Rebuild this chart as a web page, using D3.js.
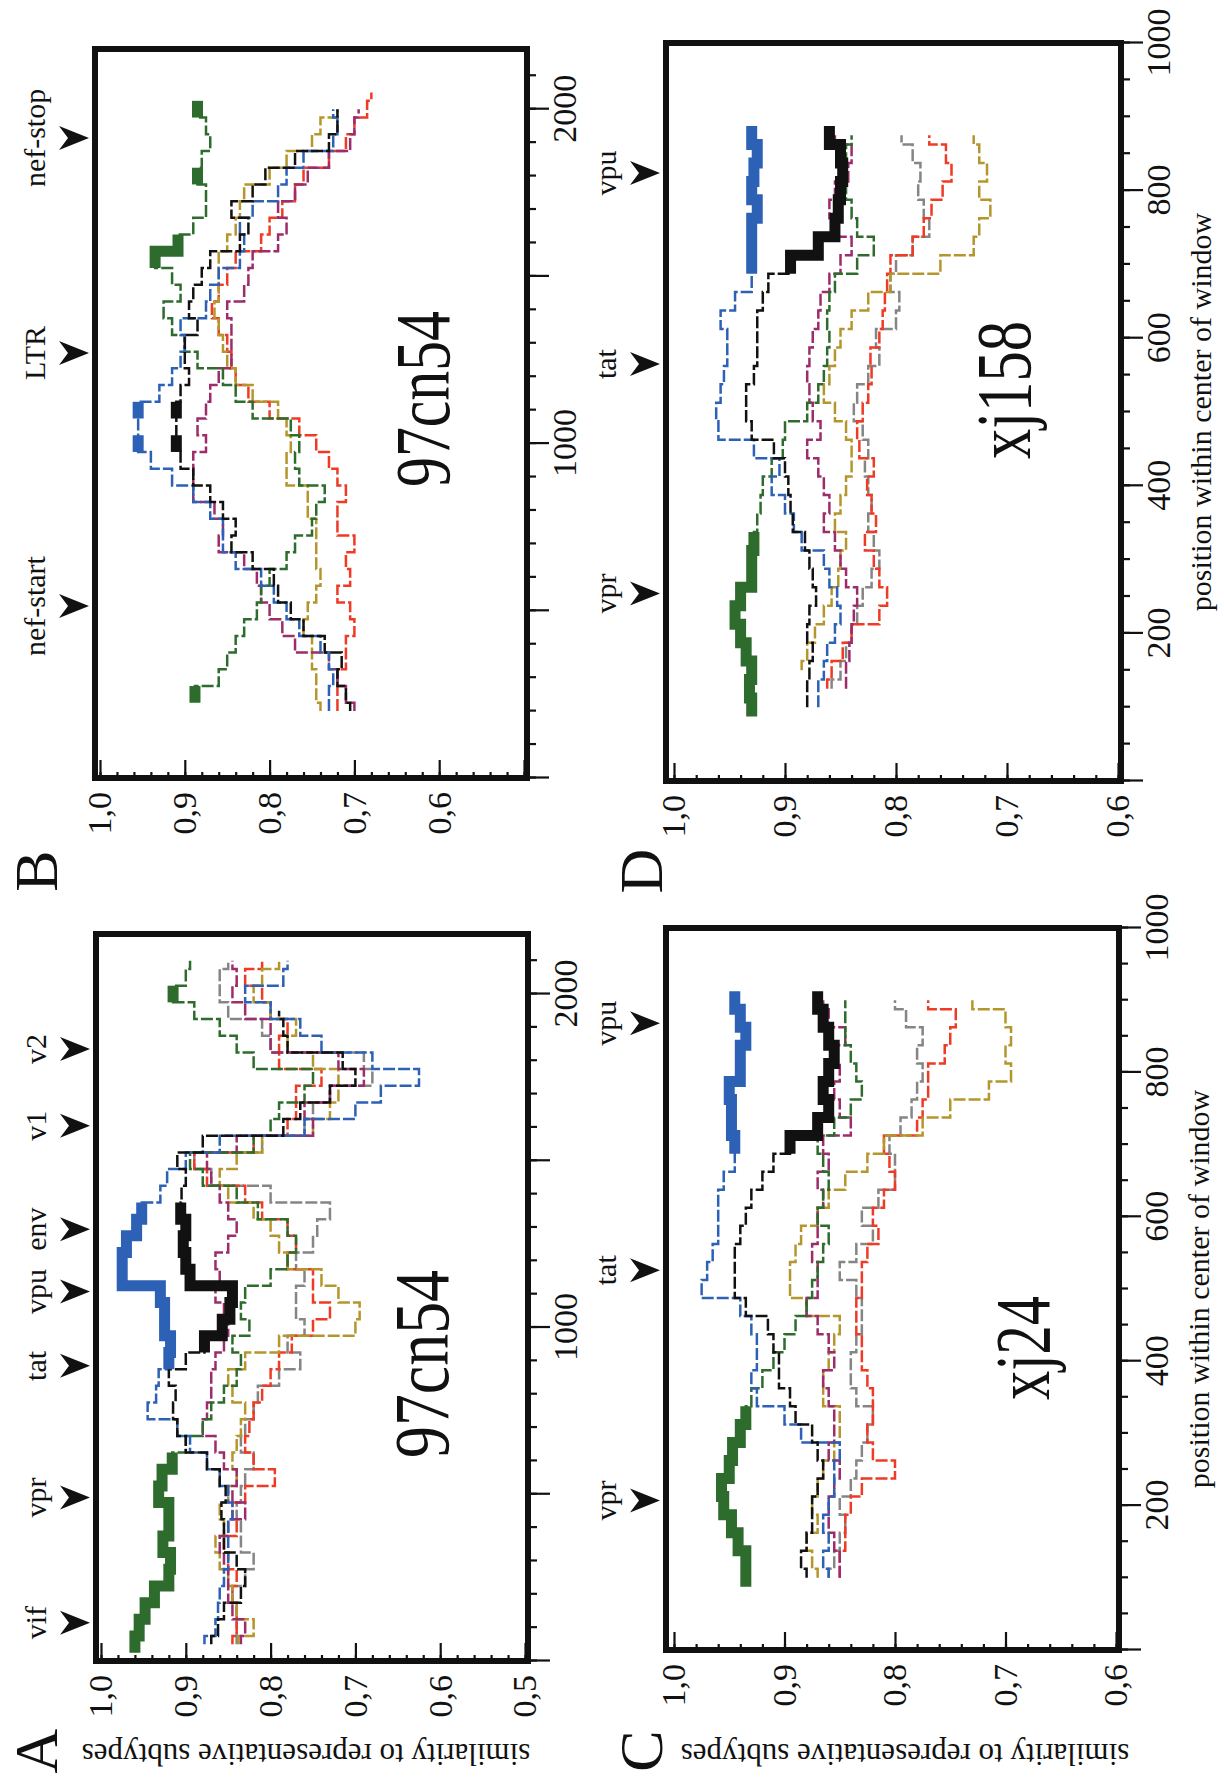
<!DOCTYPE html>
<html>
<head>
<meta charset="utf-8">
<script src="https://cdn.jsdelivr.net/npm/d3@7"></script>
<style>
  html, body { margin: 0; padding: 0; background: #fff; }
  svg { display: block; }
</style>
</head>
<body>
<div id="container"></div>
<script>
// window centres the curves were read at
const posAB = [50, 100, 150, 200, 250, 300, 350, 400, 450, 500, 550, 600, 650, 700, 750, 800, 850, 900, 950, 1000, 1050,
  1100, 1150, 1200, 1250, 1300, 1350, 1400, 1450, 1500, 1550, 1600, 1650, 1700, 1750, 1800, 1850, 1900, 1950, 2000, 2050, 2100];
const posCD = [100, 125, 150, 175, 200, 225, 250, 275, 300, 325, 350, 375, 400, 425, 450, 475, 500, 525, 550, 575, 600,
  625, 650, 675, 700, 725, 750, 775, 800, 825, 850, 875, 900];

// A: 97cn54, gag-env
const aGreen = [0.96, 0.955, 0.948, 0.937, 0.92, 0.918, 0.927, 0.92, 0.92, 0.932, 0.928, 0.916, 0.9, 0.88, 0.87, 0.855, 0.84, 0.835, 0.845, 0.825, 0.835,
  0.83, 0.8, 0.78, 0.77, 0.78, 0.815, 0.84, 0.88, 0.895, 0.82, 0.8, 0.79, 0.76, 0.75, 0.82, 0.84, 0.86, 0.89, 0.915, 0.9, 0.895];
const aBlue = [0.878, 0.865, 0.862, 0.86, 0.855, 0.85, 0.85, 0.85, 0.845, 0.85, 0.86, 0.875, 0.895, 0.91, 0.945, 0.935, 0.932, 0.92, 0.918, 0.925, 0.925,
  0.93, 0.975, 0.975, 0.97, 0.958, 0.952, 0.93, 0.922, 0.9, 0.86, 0.76, 0.7, 0.67, 0.625, 0.68, 0.74, 0.765, 0.8, 0.83, 0.785, 0.78];
const aBlack = [0.87, 0.862, 0.855, 0.835, 0.83, 0.84, 0.855, 0.855, 0.858, 0.853, 0.86, 0.875, 0.9, 0.91, 0.915, 0.912, 0.92, 0.9, 0.878, 0.857, 0.848,
  0.845, 0.895, 0.9, 0.903, 0.9, 0.906, 0.905, 0.9, 0.91, 0.88, 0.785, 0.765, 0.73, 0.7, 0.715, 0.78, 0.785, 0.79, null, null, null];
const aPurple = [0.835, 0.83, 0.845, 0.85, 0.85, 0.855, 0.86, 0.85, 0.83, 0.845, 0.84, 0.855, 0.865, 0.88, 0.875, 0.87, 0.87, 0.865, 0.855, 0.85, 0.855,
  0.865, 0.86, 0.865, 0.85, 0.84, 0.85, 0.86, 0.87, 0.875, 0.84, 0.75, 0.76, 0.73, 0.69, 0.72, 0.8, 0.8, 0.83, 0.845, 0.84, 0.845];
const aOlive = [0.838, 0.82, 0.84, 0.845, 0.85, 0.86, 0.865, 0.855, 0.86, 0.85, 0.84, 0.845, 0.84, 0.835, 0.83, 0.845, 0.85, 0.83, 0.79, 0.7, 0.695,
  0.72, 0.74, 0.78, 0.79, 0.8, 0.82, 0.85, 0.86, 0.84, 0.81, 0.75, 0.73, 0.72, 0.72, 0.75, 0.78, 0.77, 0.8, 0.82, 0.81, 0.79];
const aRed = [0.845, 0.84, 0.84, 0.845, 0.84, 0.85, 0.855, 0.84, 0.845, 0.83, 0.795, 0.82, 0.83, 0.825, 0.82, 0.81, 0.8, 0.79, 0.775, 0.75, 0.73,
  0.75, 0.75, 0.78, 0.77, 0.78, 0.81, 0.83, 0.875, 0.89, 0.82, 0.78, 0.77, 0.77, 0.74, 0.79, 0.79, 0.78, 0.8, 0.81, 0.83, 0.81];
const aGray = [0.84, 0.84, 0.84, 0.845, 0.83, 0.82, 0.835, 0.835, 0.84, 0.835, 0.83, 0.82, 0.835, 0.83, 0.82, 0.815, 0.79, 0.765, 0.78, 0.76, 0.77,
  0.77, 0.76, 0.77, 0.75, 0.745, 0.73, 0.8, 0.87, 0.89, 0.81, 0.76, 0.75, 0.73, 0.68, 0.69, 0.8, 0.81, 0.85, 0.86, 0.86, 0.85];

// B: 97cn54, nef / LTR
const bGreen = [null, null, null, null, 0.888, 0.86, 0.85, 0.84, 0.83, 0.815, 0.81, 0.8, 0.78, 0.77, 0.75, 0.745, 0.735, 0.765, 0.77, 0.765, 0.775,
  0.82, 0.84, 0.855, 0.885, 0.9, 0.915, 0.925, 0.905, 0.915, 0.935, 0.908, 0.89, 0.875, 0.875, 0.885, 0.88, 0.87, 0.875, 0.885, null, null];
const bBlue = [null, null, null, 0.73, 0.73, 0.725, 0.73, 0.74, 0.765, 0.78, 0.795, 0.81, 0.84, 0.855, 0.855, 0.87, 0.89, 0.915, 0.94, 0.955, 0.955,
  0.955, 0.93, 0.915, 0.905, 0.9, 0.905, 0.875, 0.87, 0.86, 0.835, 0.83, 0.835, 0.82, 0.79, 0.78, 0.76, 0.725, 0.72, 0.725, null, null];
const bBlack = [null, null, null, 0.705, 0.71, 0.72, 0.715, 0.735, 0.76, 0.775, 0.79, 0.795, 0.82, 0.845, 0.84, 0.855, 0.87, 0.89, 0.905, 0.91, 0.91,
  0.91, 0.905, 0.895, 0.9, 0.9, 0.885, 0.895, 0.89, 0.88, 0.87, 0.835, 0.825, 0.845, 0.82, 0.805, 0.77, 0.73, 0.72, 0.72, null, null];
const bPurple = [null, null, null, 0.7, 0.71, 0.72, 0.73, 0.77, 0.785, 0.8, 0.81, 0.815, 0.83, 0.86, 0.855, 0.865, 0.89, 0.89, 0.89, 0.875, 0.885,
  0.875, 0.87, 0.86, 0.845, 0.845, 0.845, 0.85, 0.83, 0.825, 0.82, 0.79, 0.78, 0.79, 0.77, 0.755, 0.73, 0.705, 0.7, 0.695, null, null];
const bOlive = [null, null, null, 0.74, 0.745, 0.745, 0.75, 0.75, 0.76, 0.755, 0.745, 0.74, 0.745, 0.745, 0.745, 0.755, 0.755, 0.78, 0.78, 0.775, 0.78,
  0.79, 0.82, 0.84, 0.85, 0.855, 0.86, 0.865, 0.86, 0.86, 0.86, 0.85, 0.84, 0.835, 0.83, 0.8, 0.78, 0.75, 0.74, 0.72, null, null];
const bRed = [null, null, null, 0.72, 0.72, 0.72, 0.71, 0.71, 0.7, 0.705, 0.72, 0.705, 0.71, 0.7, 0.72, 0.72, 0.71, 0.72, 0.73, 0.745, 0.765,
  0.8, 0.825, 0.84, 0.845, 0.85, 0.86, 0.868, 0.86, 0.85, 0.84, 0.81, 0.8, 0.785, 0.77, 0.76, 0.73, 0.71, 0.7, 0.685, 0.68, null];

// C: xj24
const cGreen = [0.935, 0.935, 0.942, 0.948, 0.955, 0.957, 0.95, 0.947, 0.94, 0.935, 0.93, 0.92, 0.91, 0.9, 0.89, 0.88, 0.875,
  0.87, 0.865, 0.86, 0.87, 0.865, 0.86, 0.865, 0.87, 0.855, 0.84, 0.83, 0.835, 0.84, 0.845, 0.845, 0.845];
const cBlue = [0.86, 0.865, 0.86, 0.865, 0.86, 0.855, 0.855, 0.85, 0.885, 0.9, 0.925, 0.93, 0.925, 0.925, 0.93, 0.94, 0.975,
  0.97, 0.965, 0.96, 0.96, 0.96, 0.955, 0.945, 0.945, 0.948, 0.948, 0.95, 0.94, 0.94, 0.935, 0.94, 0.945];
const cBlack = [0.88, 0.885, 0.88, 0.875, 0.875, 0.87, 0.865, 0.87, 0.875, 0.89, 0.895, 0.905, 0.905, 0.91, 0.915, 0.935, 0.945,
  0.945, 0.945, 0.94, 0.935, 0.93, 0.92, 0.91, 0.895, 0.87, 0.86, 0.865, 0.86, 0.855, 0.86, 0.865, 0.87];
const cPurple = [0.85, 0.85, 0.855, 0.86, 0.86, 0.855, 0.85, 0.86, 0.855, 0.855, 0.86, 0.865, 0.855, 0.86, 0.87, 0.88, 0.87,
  0.87, 0.875, 0.87, 0.87, 0.865, 0.87, 0.86, 0.865, 0.84, 0.85, 0.855, 0.85, 0.855, 0.845, 0.86, 0.865];
const cOlive = [0.87, 0.875, 0.88, 0.87, 0.875, 0.87, 0.865, 0.855, 0.85, 0.85, 0.865, 0.865, 0.86, 0.855, 0.85, 0.88, 0.895,
  0.895, 0.89, 0.885, 0.87, 0.86, 0.845, 0.825, 0.81, 0.775, 0.75, 0.715, 0.695, 0.7, 0.695, 0.7, 0.73];
const cRed = [0.85, 0.85, 0.845, 0.845, 0.84, 0.83, 0.8, 0.82, 0.825, 0.82, 0.82, 0.825, 0.83, 0.83, 0.835, 0.835, 0.83,
  0.83, 0.825, 0.815, 0.82, 0.81, 0.8, 0.805, 0.81, 0.78, 0.775, 0.77, 0.77, 0.755, 0.75, 0.745, 0.77];
const cGray = [0.86, 0.855, 0.85, 0.845, 0.85, 0.84, 0.835, 0.83, 0.825, 0.82, 0.835, 0.84, 0.84, 0.835, 0.83, 0.83, 0.835,
  0.85, 0.835, 0.82, 0.83, 0.815, 0.8, 0.8, 0.805, 0.795, 0.785, 0.78, 0.775, 0.78, 0.775, 0.79, 0.8];

// D: xj158
const dGreen = [0.93, 0.932, 0.93, 0.935, 0.94, 0.945, 0.94, 0.93, 0.93, 0.928, 0.925, 0.922, 0.92, 0.912, 0.902, 0.9, 0.88,
  0.87, 0.865, 0.862, 0.86, 0.862, 0.86, 0.855, 0.835, 0.82, 0.835, 0.84, 0.845, 0.845, 0.845, 0.84, null];
const dBlue = [0.87, 0.87, 0.865, 0.862, 0.855, 0.85, 0.853, 0.86, 0.865, 0.885, 0.892, 0.9, 0.912, 0.905, 0.928, 0.96, 0.962,
  0.958, 0.955, 0.952, 0.952, 0.958, 0.945, 0.93, 0.93, 0.93, 0.93, 0.925, 0.93, 0.928, 0.925, 0.93, null];
const dBlack = [0.88, 0.88, 0.878, 0.875, 0.88, 0.878, 0.872, 0.875, 0.878, 0.882, 0.893, 0.895, 0.897, 0.9, 0.91, 0.93, 0.935,
  0.935, 0.928, 0.925, 0.925, 0.925, 0.92, 0.915, 0.895, 0.87, 0.855, 0.852, 0.85, 0.848, 0.85, 0.86, null];
const dPurple = [null, 0.845, 0.845, 0.842, 0.84, 0.838, 0.835, 0.845, 0.85, 0.855, 0.865, 0.86, 0.865, 0.87, 0.88, 0.868, 0.875,
  0.878, 0.88, 0.878, 0.875, 0.87, 0.868, 0.86, 0.85, 0.84, 0.855, 0.86, 0.855, 0.843, 0.84, 0.855, null];
const dOlive = [null, null, 0.885, 0.88, 0.873, 0.865, 0.858, 0.852, 0.85, 0.845, 0.855, 0.85, 0.845, 0.84, 0.84, 0.845, 0.855,
  0.865, 0.86, 0.855, 0.85, 0.84, 0.825, 0.805, 0.76, 0.73, 0.725, 0.715, 0.725, 0.718, 0.725, 0.73, null];
const dRed = [null, 0.862, 0.858, 0.848, 0.84, 0.815, 0.808, 0.815, 0.82, 0.828, 0.818, 0.822, 0.826, 0.82, 0.833, 0.835, 0.83,
  0.825, 0.822, 0.823, 0.815, 0.812, 0.81, 0.808, 0.805, 0.785, 0.775, 0.768, 0.758, 0.75, 0.755, 0.77, null];
const dGray = [null, 0.858, 0.85, 0.845, 0.84, 0.835, 0.83, 0.822, 0.815, 0.82, 0.825, 0.822, 0.825, 0.828, 0.825, 0.83, 0.838,
  0.835, 0.825, 0.815, 0.818, 0.8, 0.797, 0.805, 0.8, 0.785, 0.77, 0.775, 0.78, 0.778, 0.785, 0.795, null];

// gene landmarks above each panel
const genesA = ["vif", "vpr", "tat", "vpu", "env", "v1", "v2"];
const genePosA = [115, 490, 885, 1108, 1295, 1605, 1835];
const genesB = ["nef-start", "LTR", "nef-stop"];
const genePosB = [514, 1271, 1914];
const genesCD = ["vpr", "tat", "vpu"];
const genePosC = [207, 526, 868];
const genePosD = [254, 565, 824];

const xLabelsAB = [1000, 2000];
const xLabelsCD = [200, 400, 600, 800, 1000];

const colors = {
  gray: "#858585", red: "#ef3a25", olive: "#b5962d", purple: "#9c2d6a",
  green: "#2d6c2d", blue: "#2c61b5", black: "#111111"
};
const drawOrder = ["gray", "red", "olive", "purple", "green", "blue", "black"];
const serif = '"Liberation Serif", "Times New Roman", serif';

const W = 1224, H = 1778;
const svg = d3.select("#container").append("svg").attr("width", W).attr("height", H);
svg.append("rect").attr("width", W).attr("height", H).attr("fill", "#fff");
// figure is laid out landscape (1778 x 1224) and printed a quarter turn round
const fig = svg.append("g").attr("transform", `translate(0,${H}) rotate(-90)`);

const setAttrs = (el, attrs) =>
  Object.entries(attrs).reduce((acc, [key, val]) => acc.attr(key, val), el);

const panels = [
  {
    letter: "A", name: "97cn54", box: [117, 844, 96, 528], xMax: 2180, yMin: 0.5, pad: [5, 3],
    pos: posAB, step: 50, simLabelMin: 0.5, xLabels: xLabelsAB,
    series: { gray: aGray, red: aRed, olive: aOlive, purple: aPurple, green: aGreen, blue: aBlue, black: aBlack },
    thick: { green: [[50, 600], [2000, 2000]], blue: [[900, 1350]], black: [[950, 1350]] },
    genes: genesA, genePos: genePosA,
    nameAt: [320, 448, 188], yTitle: 306, xTitle: false, letterAt: [27, 57]
  },
  {
    letter: "B", name: "97cn54", box: [1000, 1729, 95, 527], xMax: 2180, yMin: 0.5, pad: [5, 3],
    pos: posAB, step: 50, simLabelMin: 0.6, xLabels: xLabelsAB,
    series: { red: bRed, olive: bOlive, purple: bPurple, green: bGreen, blue: bBlue, black: bBlack },
    thick: { green: [[250, 250], [1550, 1600], [1800, 1800], [2000, 2000]], blue: [[1000, 1000], [1100, 1100]], black: [[1000, 1000], [1100, 1100]] },
    genes: genesB, genePos: genePosB,
    nameAt: [1291, 449, 176], yTitle: null, xTitle: false, letterAt: [907, 57]
  },
  {
    letter: "C", name: "xj24", box: [128, 850, 666, 1119], xMax: 1000, yMin: 0.6, pad: [8, 3],
    pos: posCD, step: 25, simLabelMin: 0.6, xLabels: xLabelsCD,
    series: { gray: cGray, red: cRed, olive: cOlive, purple: cPurple, green: cGreen, blue: cBlue, black: cBlack },
    thick: { green: [[100, 325]], blue: [[700, 900]], black: [[700, 900]] },
    genes: genesCD, genePos: genePosC,
    nameAt: [378, 1049, 104], yTitle: 905, xTitle: true, letterAt: [27, 662]
  },
  {
    letter: "D", name: "xj158", box: [997, 1735, 666, 1121], xMax: 1000, yMin: 0.6, pad: [8, 3],
    pos: posCD, step: 25, simLabelMin: 0.6, xLabels: xLabelsCD,
    series: { gray: dGray, red: dRed, olive: dOlive, purple: dPurple, green: dGreen, blue: dBlue, black: dBlack },
    thick: { green: [[100, 325]], blue: [[700, 875]], black: [[700, 875]] },
    genes: genesCD, genePos: genePosD,
    nameAt: [1319, 1030, 138], yTitle: null, xTitle: true, letterAt: [907, 662]
  }
];

const fmtSim = (d) => d3.format(".1f")(d).replace(".", ",");

const styleAxis = (g, size) => {
  g.select(".domain").remove();
  g.selectAll(".tick line").attr("stroke", "#111").attr("stroke-width", 2.2);
  g.selectAll(".tick text").attr("font-family", serif).attr("font-size", size).attr("fill", "#111");
};

function drawPanel(p) {
  const [u0, u1, v0, v1] = p.box;
  const x = d3.scaleLinear().domain([0, p.xMax]).range([u0, u1]);
  const y = d3.scaleLinear().domain([p.yMin, 1]).range([v1 - p.pad[1], v0 + p.pad[0]]);
  const g = fig.append("g");

  const line = d3.line()
    .defined((d) => d.v != null)
    .x((d) => x(d.p))
    .y((d) => y(d.v))
    .curve(d3.curveStep);

  const points = (key) => p.pos.map((q, i) => ({ p: q, v: p.series[key][i] }));

  drawOrder.filter((key) => p.series[key]).forEach((key) => {
    setAttrs(g.append("path"), {
      d: line(points(key)), fill: "none", stroke: colors[key],
      "stroke-width": 2.5, "stroke-dasharray": "12 3"
    });
  });

  // windows with significant similarity are drawn heavy
  Object.entries(p.thick).forEach(([key, ranges]) => {
    ranges.forEach(([a, b]) => {
      const pts = points(key).filter((d) => d.p >= a && d.p <= b && d.v != null);
      const h = p.step / 2;
      const ext = [{ p: pts[0].p - h, v: pts[0].v }, ...pts, { p: pts[pts.length - 1].p + h, v: pts[pts.length - 1].v }];
      setAttrs(g.append("path"), { d: line(ext), fill: "none", stroke: colors[key], "stroke-width": 11 });
    });
  });

  setAttrs(g.append("rect"), {
    x: u0, y: v0, width: u1 - u0, height: v1 - v0,
    fill: "none", stroke: "#111", "stroke-width": 6
  });

  // similarity axis, ticks pointing into the box
  g.append("g").attr("transform", `translate(${u0},0)`)
    .call(d3.axisLeft(y).tickValues(y.ticks(25)).tickSize(-6).tickFormat(""))
    .call((a) => styleAxis(a, 34));
  g.append("g").attr("transform", `translate(${u0},0)`)
    .call(d3.axisLeft(y).tickValues(y.ticks(5)).tickSize(-18).tickPadding(14)
      .tickFormat((d) => (d >= p.simLabelMin - 1e-9 ? fmtSim(d) : "")))
    .call((a) => styleAxis(a, 34));

  // position axis below the box
  g.append("g").attr("transform", `translate(0,${v1})`)
    .call(d3.axisBottom(x).tickValues(x.ticks(p.xMax > 1500 ? 22 : 20)).tickSize(9).tickFormat(""))
    .call((a) => styleAxis(a, 34));
  g.append("g").attr("transform", `translate(0,${v1})`)
    .call(d3.axisBottom(x).tickValues(x.ticks(p.xMax > 1500 ? 4 : 5)).tickSize(22).tickPadding(3)
      .tickFormat((d) => (p.xLabels.includes(d) ? d : "")))
    .call((a) => styleAxis(a, 34));

  // gene arrows and names
  const genes = g.append("g");
  p.genePos.forEach((q, i) => {
    const ux = x(q);
    setAttrs(genes.append("path"), {
      d: "M0,0L-12,-30L0,-21L12,-30Z",
      transform: `translate(${ux},${v0 - 6})`,
      fill: "#111"
    });
    setAttrs(genes.append("text"), {
      x: ux, y: v0 - 50, "text-anchor": "middle",
      "font-family": serif, "font-size": 30, fill: "#111"
    }).text(p.genes[i]);
  });

  setAttrs(g.append("text"), {
    x: p.nameAt[0], y: p.nameAt[1], textLength: p.nameAt[2], lengthAdjust: "spacingAndGlyphs",
    "font-family": serif, "font-size": 78, fill: "#111"
  }).text(p.name);

  setAttrs(g.append("text"), {
    x: p.letterAt[0], y: p.letterAt[1], "text-anchor": "middle",
    "font-family": serif, "font-size": 62, fill: "#111"
  }).text(p.letter);

  if (p.yTitle) {
    setAttrs(g.append("text"), {
      transform: `translate(34,${p.yTitle}) rotate(-90)`, "text-anchor": "middle",
      "font-family": serif, "font-size": 31, fill: "#111"
    }).text("similarity to representative subtypes");
  }
  if (p.xTitle) {
    setAttrs(g.append("text"), {
      x: (u0 + u1) / 2, y: v1 + 90, "text-anchor": "middle",
      "font-family": serif, "font-size": 30, fill: "#111"
    }).text("position within center of window");
  }
}

panels.forEach(drawPanel);
</script>
</body>
</html>
